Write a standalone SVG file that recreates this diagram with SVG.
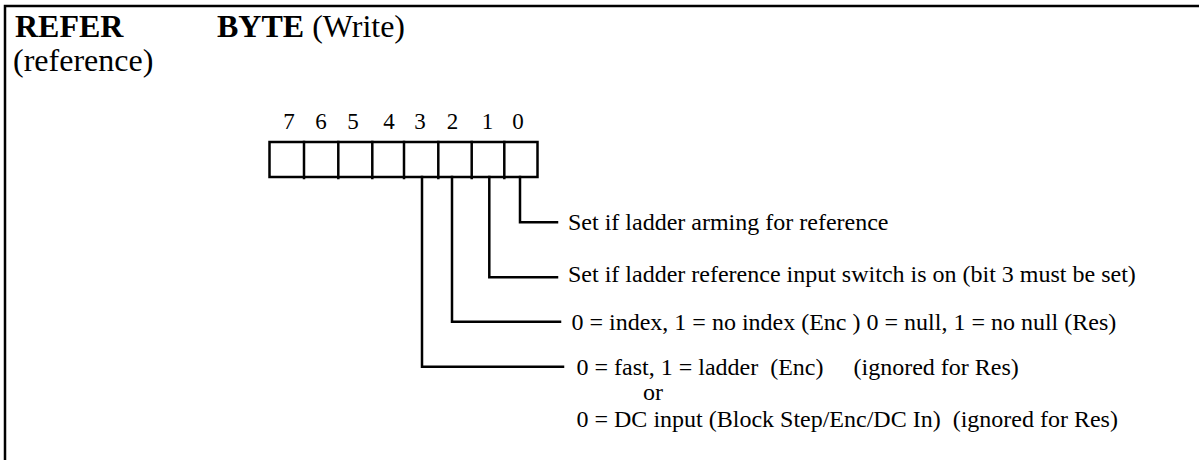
<svg xmlns="http://www.w3.org/2000/svg" width="1199" height="460" viewBox="0 0 1199 460">
<style>
  .t { font-family: "Liberation Serif", "Times New Roman", serif; fill: #000; }
  .title { font-size: 32px; }
  .lbl { font-size: 24px; }
  .dig { font-size: 23px; text-anchor: middle; }
  .ln { stroke: #000; stroke-width: 2.5; fill: none; stroke-linecap: square; }
</style>
<rect width="1199" height="460" fill="#fff"/>
<g id="frame">
  <path class="ln" d="M5,460 V6 H1199"/>
</g>
<g id="title">
  <text class="t title" x="15" y="37" font-weight="bold">REFER</text>
  <text class="t title" x="217" y="37"><tspan font-weight="bold">BYTE</tspan> (Write)</text>
  <text class="t title" x="13" y="71">(reference)</text>
</g>
<g id="byte">
  <text class="t dig" x="289" y="129">7</text>
  <text class="t dig" x="321" y="129">6</text>
  <text class="t dig" x="353" y="129">5</text>
  <text class="t dig" x="389" y="129">4</text>
  <text class="t dig" x="420" y="129">3</text>
  <text class="t dig" x="452.5" y="129">2</text>
  <text class="t dig" x="487.5" y="129">1</text>
  <text class="t dig" x="518" y="129">0</text>
  <rect class="ln" x="269.5" y="142" width="268" height="35"/>
  <path class="ln" d="M304,142 V178 M338.3,142 V178 M372.3,142 V178 M404,142 V178 M438.3,142 V178 M471.7,142 V178 M504.3,142 V178"/>
</g>
<g id="connectors">
  <path class="ln" d="M520,177 V222.3 H557"/>
  <path class="ln" d="M489.3,177 V277.3 H557"/>
  <path class="ln" d="M452,177 V321.7 H560"/>
  <path class="ln" d="M422,177 V366.7 H563"/>
</g>
<g id="bit0">
  <text class="t lbl" x="568" y="230">Set if ladder arming for reference</text>
</g>
<g id="bit1">
  <text class="t lbl" x="568" y="282">Set if ladder reference input switch is on (bit 3 must be set)</text>
</g>
<g id="bit2">
  <text class="t lbl" x="571.5" y="330">0 = index, 1 = no index (Enc ) 0 = null, 1 = no null (Res)</text>
</g>
<g id="bit3">
  <text class="t lbl" x="576.5" y="375" xml:space="preserve">0 = fast, 1 = ladder  (Enc)     (ignored for Res)</text>
  <text class="t lbl" x="643" y="400">or</text>
  <text class="t lbl" x="576.5" y="427" xml:space="preserve">0 = DC input (Block Step/Enc/DC In)  (ignored for Res)</text>
</g>
</svg>
